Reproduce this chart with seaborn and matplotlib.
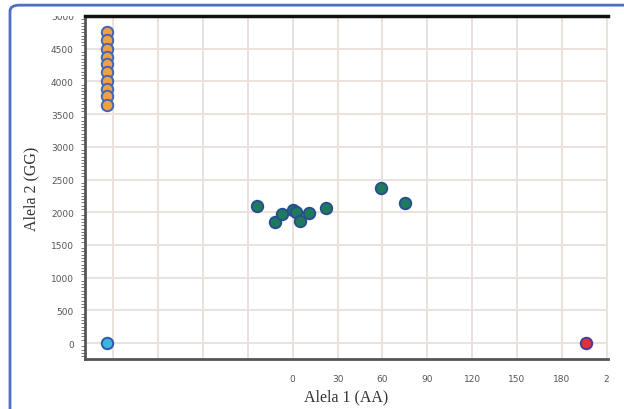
import numpy as np
import pandas as pd
import matplotlib.pyplot as plt
import seaborn as sns
from matplotlib.patches import FancyBboxPatch
from matplotlib.transforms import Bbox
from matplotlib.ticker import MultipleLocator, FixedLocator

# ------------------------------------------------------------
# data
# ------------------------------------------------------------
# GG homozygotes (orange)
gg_x = [-124, -124, -124, -124, -124, -124, -124, -124, -124, -124]
gg_y = [4760, 4640, 4490, 4370, 4260, 4140, 4000, 3890, 3770, 3640]

# heterozygotes (green)
ag_x = [-24, -12, -7, 0, 2, 5, 11, 22, 59, 75]
ag_y = [2090, 1850, 1970, 2030, 2000, 1860, 1985, 2060, 2370, 2140]

# no template control (light blue)
ntc_x = [-124]
ntc_y = [0]

# AA homozygote (red)
aa_x = [196]
aa_y = [0]

x_ticks = [-120, -90, -60, -30, 0, 30, 60, 90, 120, 150, 180, 210]
x_labels = ["", "", "", "", "0", "30", "60", "90", "120", "150", "180", "2"]
y_ticks = [0, 500, 1000, 1500, 2000, 2500, 3000, 3500, 4000, 4500, 5000]

df = pd.DataFrame({
    "x": gg_x + ag_x + ntc_x + aa_x,
    "y": gg_y + ag_y + ntc_y + aa_y,
    "grupo": ["GG"] * len(gg_x) + ["AG"] * len(ag_x) + ["NTC"] * len(ntc_x) + ["AA"] * len(aa_x),
})

styles = {
    "GG": ("#f0a040", "#4464b4"),
    "AG": ("#1f7a5c", "#264f90"),
    "NTC": ("#40b4dc", "#2a5aa8"),
    "AA": ("#e0303a", "#4a3a9a"),
}

# ------------------------------------------------------------
# plot
# ------------------------------------------------------------
sns.set_style("white")
fig = plt.figure(figsize=(6.24, 4.10), dpi=100)
ax = fig.add_axes([85 / 624, 50 / 410, 523 / 624, 343 / 410])

for g, (fc, ec) in styles.items():
    sub = df[df["grupo"] == g]
    sns.scatterplot(data=sub, x="x", y="y", ax=ax, color=fc, edgecolor=ec,
                    linewidth=1.4, s=68, zorder=3, legend=False)

ax.set_xlim(-139, 211)
ax.set_ylim(-244, 5000)

ax.xaxis.set_major_locator(FixedLocator(x_ticks))
ax.set_xticklabels(x_labels)
ax.yaxis.set_major_locator(FixedLocator(y_ticks))
ax.yaxis.set_minor_locator(MultipleLocator(50))

ax.grid(True, which="major", color="#ebe2de", linewidth=1.4)
ax.set_axisbelow(True)

ax.tick_params(axis="x", which="major", direction="out", length=7, width=1.6,
               color="#555555", labelsize=6.5, labelcolor="#555555", pad=4)
ax.tick_params(axis="y", which="major", direction="out", length=6, width=1.2,
               color="#555555", labelsize=6.5, labelcolor="#555555", pad=2)
ax.tick_params(axis="y", which="minor", direction="out", length=3, width=0.7,
               color="#777777", left=True)

for side in ["left", "bottom"]:
    ax.spines[side].set_color("#555555")
    ax.spines[side].set_linewidth(2)
ax.spines["top"].set_color("#111111")
ax.spines["top"].set_linewidth(2.5)
ax.spines["right"].set_visible(False)

ax.set_xlabel("Alela 1 (AA)", family="Liberation Serif", fontsize=11.5, color="#333333", labelpad=4)
ax.set_ylabel("Alela 2 (GG)", family="Liberation Serif", fontsize=11.5, color="#333333", labelpad=8)

# the top "5000" label is cut off in the reference
fig.canvas.draw()
clip = Bbox.from_extents(0, 0, 624, 410 - 17)
for lbl in ax.get_yticklabels():
    if lbl.get_text() == "5000":
        lbl.set_clip_box(clip)
        lbl.set_clip_on(True)

# rounded blue frame around the figure
frame = FancyBboxPatch((10 / 624, -0.1), 1.0, 1.085, boxstyle="round,pad=0,rounding_size=0.015",
                       transform=fig.transFigure, fill=False, edgecolor="#4f6fc4",
                       linewidth=2, zorder=0)
fig.patches.append(frame)

fig.savefig("out.png", dpi=100)
